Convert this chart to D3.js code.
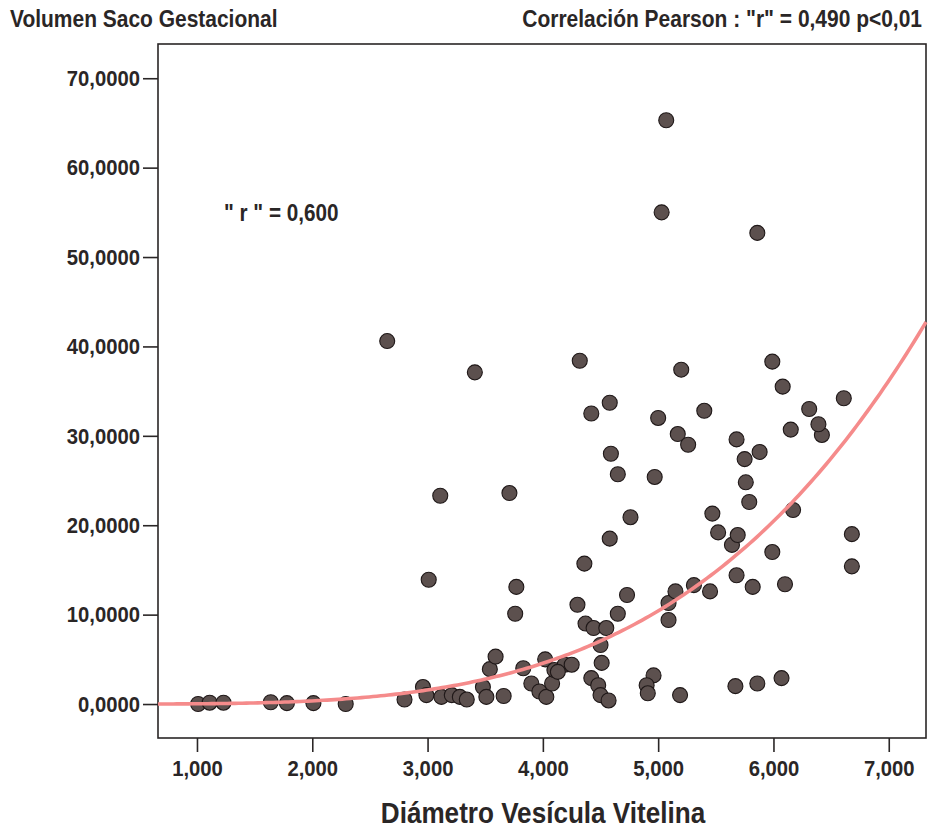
<!DOCTYPE html>
<html>
<head>
<meta charset="utf-8">
<script src="https://cdn.jsdelivr.net/npm/d3@7"></script>
<style>
  html, body { margin: 0; padding: 0; background: #ffffff; }
  svg text { font-family: "Liberation Sans", Arial, sans-serif; font-weight: bold; fill: #2a2626; }
</style>
</head>
<body>
<svg id="chart" width="930" height="830"></svg>
<script>
// Diámetro Vesícula Vitelina (mm) vs Volumen Saco Gestacional (ml)
const diametro = [
  1.01, 1.11, 1.23, 1.64, 1.78, 2.01, 2.29, 2.80, 2.96, 2.99,
  3.12, 3.21, 3.28, 3.34, 3.48, 3.51, 3.66, 3.54, 3.59, 3.83,
  3.90, 3.97, 4.03, 4.02, 4.08, 4.10, 4.19, 4.25, 4.13, 4.42,
  4.48, 4.50, 4.57, 4.51, 4.50, 4.37, 4.44, 4.55, 4.30, 4.36,
  4.65, 4.73, 4.96, 4.90, 4.91, 5.19, 5.09, 5.09, 5.15, 5.31,
  5.45, 3.01, 3.77, 3.76, 5.68, 5.82, 6.10, 5.99, 5.64, 5.69,
  5.52, 5.47, 6.17, 5.79, 5.76, 5.75, 5.88, 5.68, 6.15, 6.42,
  6.39, 6.31, 6.61, 6.08, 5.99, 6.68, 6.68, 5.67, 5.86, 6.07,
  5.86, 5.07, 5.03, 5.20, 5.40, 5.17, 5.26, 5.00, 4.97, 4.58,
  4.42, 4.32, 4.59, 4.65, 4.76, 4.58, 3.41, 2.65, 3.11, 3.71
];
const volumen = [
  0.0, 0.15, 0.15, 0.2, 0.1, 0.1, 0.0, 0.5, 1.9, 1.0,
  0.8, 1.0, 0.8, 0.5, 1.9, 0.8, 0.9, 3.9, 5.3, 4.0,
  2.3, 1.4, 0.8, 5.0, 2.3, 3.8, 4.4, 4.4, 3.6, 2.9,
  2.1, 1.0, 0.4, 4.6, 6.6, 9.0, 8.5, 8.5, 11.1, 15.7,
  10.1, 12.2, 3.2, 2.1, 1.2, 1.0, 11.3, 9.4, 12.6, 13.3,
  12.6, 13.9, 13.1, 10.1, 14.4, 13.1, 13.4, 17.0, 17.8, 18.9,
  19.2, 21.3, 21.7, 22.6, 24.8, 27.4, 28.2, 29.6, 30.7, 30.1,
  31.3, 33.0, 34.2, 35.5, 38.3, 19.0, 15.4, 2.0, 2.3, 2.9,
  52.7, 65.3, 55.0, 37.4, 32.8, 30.2, 29.0, 32.0, 25.4, 33.7,
  32.5, 38.4, 28.0, 25.7, 20.9, 18.5, 37.1, 40.6, 23.3, 23.6
];
const xTicks = [1, 2, 3, 4, 5, 6, 7];
const yTicks = [0, 10, 20, 30, 40, 50, 60, 70];

// Power-model fit: volumen = a * diametro^b
const fitA = 0.027;
const fitB = 3.7;

const titleY = "Volumen Saco Gestacional";
const titleCorr = "Correlación Pearson : \"r\" = 0,490 p<0,01";
const noteR = "\" r \" = 0,600";
const titleX = "Diámetro Vesícula Vitelina";

const svg = d3.select("#chart");
const frame = { left: 158, top: 44, right: 926, bottom: 738 };
const squeeze = 0.9; // horizontal condensing of all lettering

const x = d3.scaleLinear().domain([0.662, 7.323]).range([frame.left, frame.right]);
const y = d3.scaleLinear().domain([-3.80, 73.83]).range([frame.bottom, frame.top]);

const commaFmt = spec => v => d3.format(spec)(v).replace(".", ",");

// plot frame
svg.append("rect")
  .attr("x", frame.left).attr("y", frame.top)
  .attr("width", frame.right - frame.left).attr("height", frame.bottom - frame.top)
  .attr("fill", "none").attr("stroke", "#2a2626").attr("stroke-width", 1.6);

// axes
const yAxis = svg.append("g")
  .attr("transform", `translate(${frame.left},0)`)
  .call(d3.axisLeft(y).tickValues(yTicks).tickFormat(commaFmt(".4f")).tickSize(15).tickPadding(3));
const xAxis = svg.append("g")
  .attr("transform", `translate(0,${frame.bottom})`)
  .call(d3.axisBottom(x).tickValues(xTicks).tickFormat(commaFmt(".3f")).tickSize(14).tickPadding(8));
[yAxis, xAxis].forEach(g => {
  g.select(".domain").remove();
  g.selectAll(".tick line").attr("stroke", "#2a2626").attr("stroke-width", 1.6);
  g.selectAll(".tick text")
    .style("font-size", "22.5px")
    .attr("fill", "#2a2626")
    .attr("x", function () { return (+d3.select(this).attr("x") || 0) / squeeze; })
    .attr("transform", `scale(${squeeze},1)`);
});

// data points
const pts = diametro.map((d, i) => ({ x: d, y: volumen[i] }));
svg.append("g")
  .selectAll("circle")
  .data(pts)
  .join("circle")
  .attr("cx", d => x(d.x))
  .attr("cy", d => y(d.y))
  .attr("r", 7.5)
  .attr("fill", "#5c504e")
  .attr("stroke", "#1f1818")
  .attr("stroke-width", 1.1);

// fitted curve
const xs = d3.range(0, 201).map(i => x.domain()[0] + (x.domain()[1] - x.domain()[0]) * i / 200);
const line = d3.line().x(d => x(d)).y(d => y(fitA * Math.pow(d, fitB))).curve(d3.curveBasis);
svg.append("path")
  .datum(xs)
  .attr("d", line)
  .attr("fill", "none")
  .attr("stroke", "#f58b8b")
  .attr("stroke-width", 3.6);

// texts
function label(px, py, size, anchor, str) {
  svg.append("text")
    .attr("transform", `translate(${px},${py}) scale(${squeeze},1)`)
    .attr("text-anchor", anchor)
    .style("font-size", size + "px")
    .text(str);
}
label(10, 27, 23.3, "start", titleY);
label(922, 27, 23.3, "end", titleCorr);
label(224, 221, 23, "start", noteR);
label(543, 823, 29, "middle", titleX);
</script>
</body>
</html>
